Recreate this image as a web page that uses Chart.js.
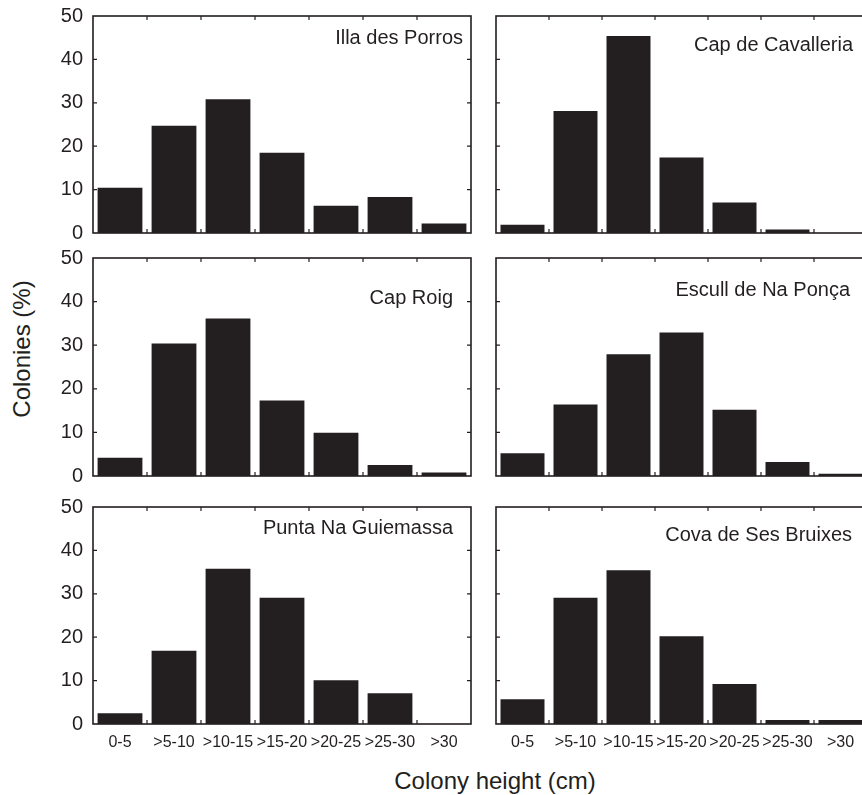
<!DOCTYPE html>
<html>
<head>
<meta charset="utf-8">
<script src="https://cdn.jsdelivr.net/npm/chart.js@4"></script>
<style>
  html, body { margin: 0; padding: 0; background: #fff; }
  body { width: 862px; height: 795px; overflow: hidden; position: relative; font-family: "Liberation Sans", Arial, sans-serif; color: #231f20; }
  .panel { position: absolute; }
  .axis-title { position: absolute; font-size: 24px; white-space: nowrap; }
</style>
</head>
<body>
<div class="axis-title" id="ytitle" style="left:22px; top:349px; transform: translate(-50%, -50%) rotate(-90deg);">Colonies (%)</div>
<div class="axis-title" id="xtitle" style="left:495px; top:781px; transform: translate(-50%, -50%);">Colony height (cm)</div>

<script>
// ===== Data =====
const heightClasses = ['0-5', '>5-10', '>10-15', '>15-20', '>20-25', '>25-30', '>30'];
const illaDesPorros    = [10.4, 24.7, 30.8, 18.5, 6.3, 8.3, 2.2];
const capDeCavalleria  = [1.9, 28.1, 45.4, 17.4, 7.0, 0.8, 0];
const capRoig          = [4.2, 30.4, 36.1, 17.3, 9.9, 2.5, 0.8];
const escullDeNaPonca  = [5.2, 16.4, 27.9, 32.9, 15.2, 3.2, 0.5];
const puntaNaGuiemassa = [2.5, 16.9, 35.8, 29.1, 10.1, 7.1, 0];
const covaDeSesBruixes = [5.7, 29.1, 35.4, 20.2, 9.2, 0.9, 0.9];
const yTickValues = [0, 10, 20, 30, 40, 50];

const INK = '#231f20';
const FONT = '"Liberation Sans", Arial, sans-serif';

// ── Layout ──────────────────────────────────────────────────────────────────
const COLS = [
  { left: 0,   width: 480, yAxisW: 93, padRight: 9, labels: true },
  { left: 486, width: 386, yAxisW: 10, padRight: 5, labels: false },
];
const ROWS = [
  { top: 16,  bottom: 233, xAxisH: 12, labels: false },
  { top: 258, bottom: 476, xAxisH: 12, labels: false },
  { top: 507, bottom: 724, xAxisH: 34, labels: true },
];
const PAD_TOP = 12;

const PANELS = [
  { name: 'Illa des Porros',     values: illaDesPorros,    col: 0, row: 0, tdx: 8,  tdy: 22 },
  { name: 'Cap de Cavalleria',   values: capDeCavalleria,  col: 1, row: 0, tdx: 14, tdy: 29 },
  { name: 'Cap Roig',            values: capRoig,          col: 0, row: 1, tdx: 18, tdy: 40 },
  { name: 'Escull de Na Ponça',  values: escullDeNaPonca,  col: 1, row: 1, tdx: 17, tdy: 32 },
  { name: 'Punta Na Guiemassa',  values: puntaNaGuiemassa, col: 0, row: 2, tdx: 18, tdy: 21 },
  { name: 'Cova de Ses Bruixes', values: covaDeSesBruixes, col: 1, row: 2, tdx: 15, tdy: 28 },
];

// ── Frame, inward ticks and panel title ─────────────────────────────────────
const framePlugin = {
  id: 'frame',
  afterDatasetsDraw(chart, args, opts) {
    const { ctx, chartArea: a, scales: { x, y } } = chart;
    const T = 4;
    ctx.save();
    ctx.strokeStyle = INK;
    ctx.lineWidth = 1.6;
    ctx.strokeRect(a.left, a.top, a.right - a.left, a.bottom - a.top);

    ctx.lineWidth = 1.2;
    ctx.beginPath();
    // category boundaries on top and bottom
    for (let i = 0; i < heightClasses.length - 1; i++) {
      const px = (x.getPixelForValue(i) + x.getPixelForValue(i + 1)) / 2;
      ctx.moveTo(px, a.bottom); ctx.lineTo(px, a.bottom - T);
      ctx.moveTo(px, a.top);    ctx.lineTo(px, a.top + T);
    }
    // value ticks on left and right
    yTickValues.slice(1, -1).forEach(v => {
      const py = y.getPixelForValue(v);
      ctx.moveTo(a.left, py);  ctx.lineTo(a.left + T, py);
      ctx.moveTo(a.right, py); ctx.lineTo(a.right - T, py);
    });
    ctx.stroke();

    ctx.fillStyle = INK;
    ctx.font = '20px ' + FONT;
    ctx.textAlign = 'right';
    ctx.textBaseline = 'middle';
    ctx.fillText(opts.title, a.right - opts.dx, a.top + opts.dy);
    ctx.restore();
  },
};

function makePanel(p) {
  const col = COLS[p.col], row = ROWS[p.row];
  const plotH = row.bottom - row.top;
  const height = PAD_TOP + plotH + row.xAxisH;

  const wrap = document.createElement('div');
  wrap.className = 'panel';
  wrap.style.left = col.left + 'px';
  wrap.style.top = (row.top - PAD_TOP) + 'px';
  const canvas = document.createElement('canvas');
  canvas.width = col.width;
  canvas.height = height;
  canvas.style.width = col.width + 'px';
  canvas.style.height = height + 'px';
  wrap.appendChild(canvas);
  document.body.appendChild(wrap);

  new Chart(canvas, {
    type: 'bar',
    data: {
      labels: heightClasses,
      datasets: [{
        data: p.values,
        backgroundColor: INK,
        borderWidth: 0,
        categoryPercentage: 1,
        barPercentage: 0.83,
      }],
    },
    options: {
      responsive: false,
      animation: false,
      events: [],
      layout: { autoPadding: false, padding: { top: PAD_TOP, right: col.padRight, left: 0, bottom: 0 } },
      plugins: {
        legend: { display: false },
        tooltip: { enabled: false },
        frame: { title: p.name, dx: p.tdx, dy: p.tdy },
      },
      scales: {
        x: {
          grid: { display: false, drawTicks: false },
          border: { display: false },
          ticks: {
            display: row.labels,
            autoSkip: false,
            maxRotation: 0,
            padding: 9,
            color: INK,
            font: { family: FONT, size: 16 },
          },
          afterFit(scale) {
            scale.height = row.xAxisH;
            scale.paddingLeft = 0; scale.paddingRight = 0;
          },
        },
        y: {
          min: 0,
          max: 50,
          grid: { display: false, drawTicks: false },
          border: { display: false },
          afterBuildTicks(scale) { scale.ticks = yTickValues.map(v => ({ value: v })); },
          ticks: {
            display: col.labels,
            padding: 10,
            color: INK,
            font: { family: FONT, size: 20 },
          },
          afterFit(scale) {
            scale.width = col.yAxisW;
            scale.paddingTop = 0; scale.paddingBottom = 0;
          },
        },
      },
    },
    plugins: [framePlugin],
  });
}

PANELS.forEach(makePanel);
</script>
</body>
</html>
